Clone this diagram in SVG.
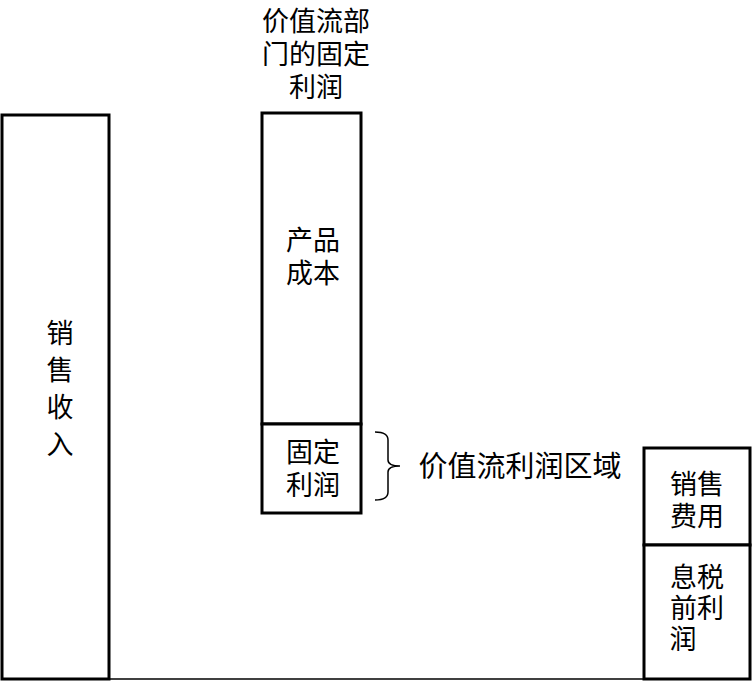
<svg xmlns="http://www.w3.org/2000/svg" width="752" height="681" viewBox="0 0 752 681">
<style>
.box{fill:#fff;stroke:#000;stroke-width:3}
.t{font-family:"Noto Sans CJK SC","Noto Sans",sans-serif;font-size:27px;fill:#000;text-anchor:middle}
.ln{fill:none;stroke:#000;stroke-width:1.5}
</style>
<rect width="752" height="681" fill="#fff"/>
<g id="connectors">
<line class="ln" x1="109" y1="679" x2="644" y2="679"/>
<path class="ln" d="M375,432 Q388,432 388,440 L388,460 Q388,466 400,466 Q388,466 388,472 L388,492 Q388,500 375,500"/>
</g>
<g id="sales-revenue">
<rect class="box" x="2" y="115" width="107" height="564"/>
<text class="t" x="60" y="343">销</text>
<text class="t" x="60" y="380">售</text>
<text class="t" x="60" y="417">收</text>
<text class="t" x="60" y="454">入</text>
</g>
<g id="title">
<text class="t" x="316" y="31">价值流部</text>
<text class="t" x="316" y="64">门的固定</text>
<text class="t" x="316" y="97">利润</text>
</g>
<g id="product-cost">
<rect class="box" x="262" y="113" width="99" height="311"/>
<text class="t" x="313" y="250">产品</text>
<text class="t" x="313" y="283">成本</text>
</g>
<g id="fixed-profit">
<rect class="box" x="262" y="424" width="99" height="89"/>
<text class="t" x="313" y="462">固定</text>
<text class="t" x="313" y="495">利润</text>
</g>
<g id="region-label">
<text class="t" x="520" y="477" style="font-size:29px">价值流利润区域</text>
</g>
<g id="selling-expense">
<rect class="box" x="644" y="448" width="106" height="97"/>
<text class="t" x="697" y="494">销售</text>
<text class="t" x="697" y="526">费用</text>
</g>
<g id="ebit">
<rect class="box" x="644" y="545" width="106" height="134"/>
<text class="t" x="697" y="587">息税</text>
<text class="t" x="697" y="618">前利</text>
<text class="t" x="683" y="649">润</text>
</g>
</svg>
